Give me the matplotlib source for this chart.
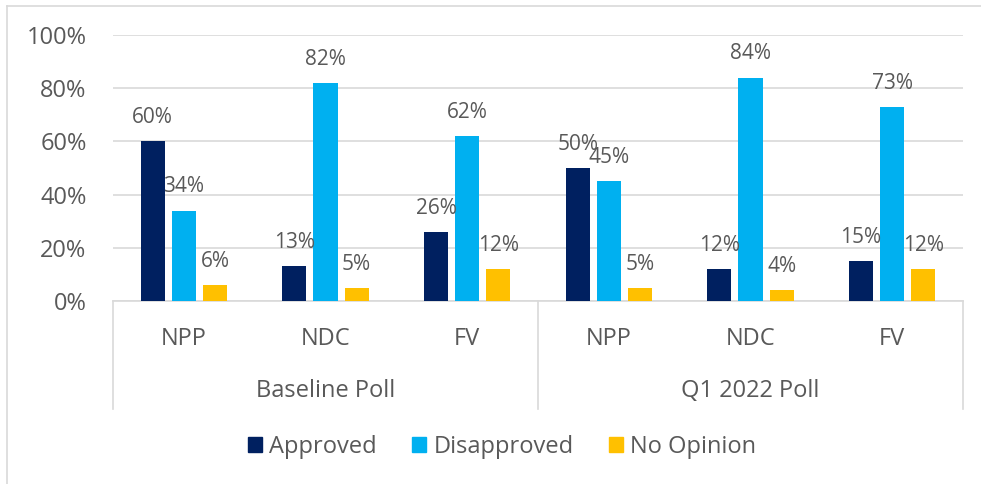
import matplotlib
matplotlib.use("Agg")
import matplotlib.pyplot as plt
from matplotlib.lines import Line2D
import numpy as np

plt.rcParams['font.family'] = ['Open Sans', 'DejaVu Sans']

polls = ["Baseline Poll", "Q1 2022 Poll"]
parties = ["NPP", "NDC", "FV", "NPP", "NDC", "FV"]
series = ["Approved", "Disapproved", "No Opinion"]
approved = [60, 13, 26, 50, 12, 15]
disapproved = [34, 82, 62, 45, 84, 73]
no_opinion = [6, 5, 12, 5, 4, 12]
colors = ["#002060", "#00B0F0", "#FFC000"]
yticks = [0, 20, 40, 60, 80, 100]

W, H = 981, 484
fig = plt.figure(figsize=(W / 100, H / 100), dpi=100)
left, right, top, bottom = 113, 963, 35, 301
ax = fig.add_axes([left / W, 1 - bottom / H, (right - left) / W, (bottom - top) / H])

x = np.arange(len(parties))
bw = 0.17
off = 0.22
text_color = "#595959"
for i, (vals, c) in enumerate(zip([approved, disapproved, no_opinion], colors)):
    pos = x + (i - 1) * off
    ax.bar(pos, [v / 100 for v in vals], width=bw, color=c, label=series[i], zorder=3)
    for p, v in zip(pos, vals):
        ax.text(p, v / 100 + 0.068, f"{v}%", ha="center", va="baseline",
                fontsize=15, color=text_color, zorder=4)

ax.set_xlim(-0.5, len(parties) - 0.5)
ax.set_ylim(0, 1)
ax.set_yticks([t / 100 for t in yticks])
ax.set_yticklabels([f"{t}%" for t in yticks], fontsize=17, color=text_color)
ax.tick_params(axis='y', length=0, pad=19)
ax.set_xticks([])
ax.grid(axis='y', color="#d9d9d9", linewidth=1.2, zorder=0)
for s in ["top", "right", "left"]:
    ax.spines[s].set_visible(False)
ax.spines["bottom"].set_color("#d9d9d9")
ax.spines["bottom"].set_linewidth(1.2)

# multi-level category axis
for xi, name in zip(x, parties):
    fig.text((left + (xi + 0.5) * (right - left) / len(parties)) / W, 1 - 339 / H, name,
             ha="center", va="center", fontsize=17, color=text_color)
for gi, name in enumerate(polls):
    cx = left + (gi + 0.5) * (right - left) / len(polls)
    fig.text(cx / W, 1 - 391 / H, name, ha="center", va="center",
             fontsize=17, color=text_color)
for gx in [left, (left + right) / 2, right]:
    fig.add_artist(Line2D([gx / W, gx / W], [1 - bottom / H, 1 - 409 / H],
                          color="#d9d9d9", linewidth=1.2))

# legend
handles = [plt.Rectangle((0, 0), 1, 1, color=c) for c in colors]
fig.legend(handles, series, loc="center", bbox_to_anchor=(502 / W, 1 - 447 / H),
           ncol=3, frameon=False, fontsize=17, handlelength=0.6, handleheight=0.6,
           columnspacing=1.5, handletextpad=0.3, labelcolor=text_color)

# outer border (top and left)
fig.add_artist(Line2D([7 / W, 1], [1 - 6 / H, 1 - 6 / H], color="#d9d9d9", linewidth=1.2))
fig.add_artist(Line2D([7 / W, 7 / W], [0, 1 - 6 / H], color="#d9d9d9", linewidth=1.2))

fig.savefig("out.png", dpi=100)
